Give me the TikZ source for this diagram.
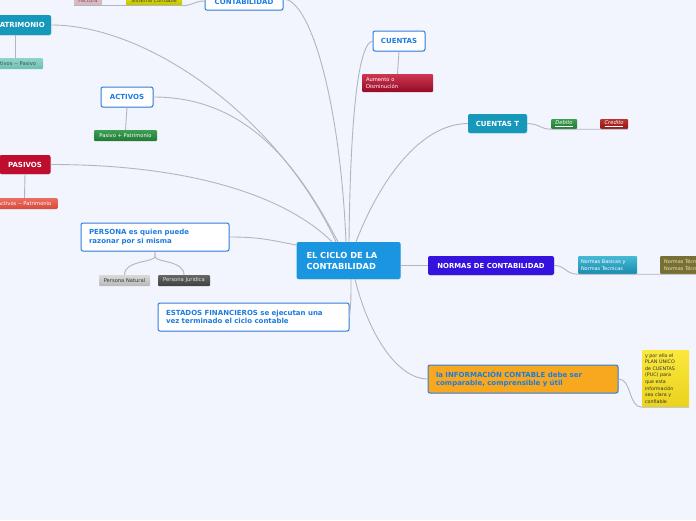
\documentclass[tikz,border=0pt]{standalone}
\usepackage{fontspec}
\setmainfont{DejaVu Sans}
\usetikzlibrary{shadows}
\definecolor{bg}{HTML}{F2F5FD}
\definecolor{lineg}{HTML}{B4B4BE}
\definecolor{bluebd}{HTML}{2F7FE0}
\definecolor{bluetx}{HTML}{1E7BE0}
\definecolor{centerc}{HTML}{1A96E0}
\definecolor{tealc}{HTML}{1598BA}
\definecolor{crimc}{HTML}{BE0D2E}
\definecolor{violc}{HTML}{3512DD}
\definecolor{orc}{HTML}{F8A81E}
\tikzset{
  conn/.style={draw=lineg, line width=0.9pt},
  boxw/.style={draw=bluebd, fill=white, line width=1pt, rounded corners=2pt, text=bluetx,
    font=\bfseries\fontsize{7}{8.3}\selectfont, inner sep=0pt, align=center,
    drop shadow={opacity=0.15, shadow xshift=0.6pt, shadow yshift=-0.8pt}},
  boxf/.style={rounded corners=2pt, text=white, font=\bfseries\fontsize{7}{8}\selectfont,
    inner sep=0pt, align=center,
    drop shadow={opacity=0.15, shadow xshift=0.6pt, shadow yshift=-0.8pt}},
  leaf/.style={rounded corners=1pt, font=\fontsize{5.2}{6}\selectfont, inner sep=0pt, align=center},
}
\begin{document}
\begin{tikzpicture}[x=1pt,y=-1pt]
\fill[bg] (0,0) rectangle (696,520);
\useasboundingbox (0,0) rectangle (696,520);
\clip (0,0) rectangle (696,520);

% central
\node[boxf, fill=centerc, font=\bfseries\fontsize{8.3}{11}\selectfont, align=left,
  text width=84pt, inner xsep=10pt, minimum height=37pt] (center) at (348.5,260.5)
  {EL CICLO DE LA\\CONTABILIDAD};

% top CONTABILIDAD
\node[boxw, anchor=base, font=\bfseries\fontsize{7}{8}\selectfont, minimum width=78pt,
  text height=16.5pt, text depth=5.5pt] (contab) at (244,4.6) {CONTABILIDAD};
\node[leaf, anchor=base, top color=yellow!80!olive, bottom color=yellow!70!olive!90!black, text=black!75, minimum width=56pt, text height=8.3pt, text depth=2.7pt] (sist) at (154,2.6) {Sistema Contable};
\node[leaf, anchor=base, fill={rgb,255:red,217;green,185;blue,192}, text={rgb,255:red,130;green,80;blue,95}, minimum width=28pt, text height=8.3pt, text depth=2.7pt] (fact) at (88,2.6) {Factura};

% PATRIMONIO
\node[boxf, fill=tealc, minimum width=62pt, minimum height=20pt] (patr) at (20,25) {PATRIMONIO};
\node[leaf, top color={rgb,255:red,140;green,214;blue,200}, bottom color={rgb,255:red,110;green,192;blue,178}, text=black!70, minimum width=56pt, minimum height=11pt] (actpas) at (15,63.5) {Activos {-}{-} Pasivo};

% ACTIVOS
\node[boxw, minimum width=52pt, minimum height=20pt] (act) at (127,97) {ACTIVOS};
\node[leaf, top color={rgb,255:red,60;green,160;blue,80}, bottom color={rgb,255:red,35;green,120;blue,55}, text=white, minimum width=63pt, minimum height=11pt] (paspat) at (125.5,135.5) {Pasivo + Patrimonio};

% PASIVOS
\node[boxf, fill=crimc, minimum width=51pt, minimum height=19pt] (pas) at (25,164.5) {PASIVOS};
\node[leaf, top color={rgb,255:red,235;green,110;blue,95}, bottom color={rgb,255:red,215;green,75;blue,62}, text=white, minimum width=66pt, minimum height=11pt] (actpat) at (24.5,203.5) {Activos {-}{-} Patrimonio};

% PERSONA
\node[boxw, align=left, text width=132pt, inner xsep=8pt, minimum height=28pt] (pers) at (155,237) {PERSONA es quien puede\\razonar por si misma};
\node[leaf, top color=black!15, bottom color=black!28, text=black!80, minimum width=51pt, minimum height=11pt] (pnat) at (124.5,280.5) {Persona Natural};
\node[leaf, top color=black!60, bottom color=black!75, text=white!90!black, minimum width=52pt, minimum height=11pt] (pjur) at (184,280.5) {Persona Juridica};

% ESTADOS
\node[boxw, align=left, text width=175pt, inner xsep=8pt, minimum height=28pt] (est) at (253.5,317) {ESTADOS FINANCIEROS se ejecutan una\\vez terminado el ciclo contable};

% CUENTAS
\node[boxw, minimum width=52pt, minimum height=20pt] (cuen) at (399,41) {CUENTAS};
\node[leaf, top color={rgb,255:red,205;green,55;blue,80}, bottom color={rgb,255:red,150;green,10;blue,40}, text=white, align=left, text width=63pt, inner xsep=4pt, minimum height=18pt, font=\fontsize{5.2}{7}\selectfont] (aum) at (397.5,83) {Aumento o\\Disminución};

% CUENTAS T
\node[boxf, fill=tealc, minimum width=59pt, minimum height=19pt] (cuent) at (497.5,123.5) {CUENTAS T};
\node[leaf, top color={rgb,255:red,60;green,160;blue,80}, bottom color={rgb,255:red,35;green,120;blue,55}, text=white, minimum width=26pt, minimum height=10pt, font=\itshape\fontsize{5.2}{6}\selectfont] (deb) at (564,124) {\underline{Debito}};
\node[leaf, top color={rgb,255:red,190;green,50;blue,45}, bottom color={rgb,255:red,140;green,25;blue,25}, text=white, minimum width=28pt, minimum height=10pt, font=\itshape\fontsize{5.2}{6}\selectfont] (cred) at (614,124) {\underline{Credito}};

% NORMAS
\node[boxf, fill=violc, font=\bfseries\fontsize{6.9}{8}\selectfont, minimum width=126pt, minimum height=19pt] (norm) at (491,265.5) {NORMAS DE CONTABILIDAD};
\node[leaf, top color={rgb,255:red,70;green,185;blue,215}, bottom color={rgb,255:red,25;green,140;blue,175}, text=white, align=left, text width=53pt, inner xsep=3pt, minimum height=18pt, font=\fontsize{5}{6.5}\selectfont] (nbas) at (607.5,265) {Normas Basicas y\\Normas Tecnicas};
\node[leaf, anchor=west, fill={rgb,255:red,120;green,112;blue,50}, text={rgb,255:red,230;green,225;blue,190}, align=left, text width=60pt, inner xsep=4pt, minimum height=18pt, font=\fontsize{5}{6.5}\selectfont] (ntec) at (660,265) {Normas Técnicas\\Normas Técnicas};

% INFORMACION
\node[boxw, fill=orc, align=left, text width=174pt, inner xsep=8pt, minimum height=28pt] (info) at (523,379) {la INFORMACIÓN CONTABLE debe ser\\comparable, comprensible y útil};
\node[leaf, top color={rgb,255:red,250;green,232;blue,60}, bottom color={rgb,255:red,235;green,210;blue,30}, text=black!80, align=left, text width=41pt, inner xsep=3pt, minimum height=57pt, font=\fontsize{4.8}{6.6}\selectfont] (puc) at (665.5,378.5) {y por ello el\\PLAN ÚNICO\\de CUENTAS\\(PUC) para\\que esta\\información\\sea clara y\\confiable};

% connectors from center
\draw[conn] ([xshift=-2.5pt]center.north) .. controls (340,100) and (310,-1) .. (contab.east);
\draw[conn] ([xshift=-12.5pt]center.north) .. controls (280,120) and (150,25) .. (patr.east);
\draw[conn] ([xshift=-10.5pt]center.north) .. controls (300,170) and (250,97) .. (act.east);
\draw[conn] ([xshift=-16.5pt]center.north) .. controls (290,200) and (200,164.5) .. (pas.east);
\draw[conn] (center.west |- 0,245) .. controls (270,240) and (260,237) .. (pers.east);
\draw[conn] ([xshift=2.5pt]center.south) .. controls (351,300) .. (est.east |- 0,317);
\draw[conn] ([xshift=0.5pt]center.north) .. controls (350,150) and (355,45) .. (cuen.west);
\draw[conn] ([xshift=7.5pt]center.north) .. controls (380,180) and (420,124) .. (cuent.west);
\draw[conn] (center.east |- norm.west) -- (norm.west);
\draw[conn] ([xshift=6.5pt]center.south) .. controls (370,340) and (400,379) .. (info.west);

% connectors to leaves
\draw[conn] (contab.west |- 0,1) .. controls (195,1) and (190,6.5) .. (sist.south east) -- (fact.south west);
\draw[conn] (patr.south -| actpas.north) -- (actpas.north);
\draw[conn] (act.south) -- (paspat.north);
\draw[conn] (pas.south) -- (actpat.north);
\draw[conn] (pers.south) -- ++(0,5) .. controls +(0,6) and (124.5,260) .. (pnat.north);
\draw[conn] (pers.south) -- ++(0,5) .. controls +(0,6) and (184,260) .. (pjur.north);
\draw[conn] (cuen.south) -- (aum.north);
\draw[conn] (cuent.east) .. controls (540,124) and (540,129) .. (deb.south west) -- (cred.south east);
\draw[conn] (norm.east) .. controls (566,265.5) and (565,274) .. (nbas.south west) -- (ntec.south east);
\draw[conn] (info.east) .. controls (632,379) and (628,407) .. (puc.south west) -- (puc.south east);
\end{tikzpicture}
\end{document}
